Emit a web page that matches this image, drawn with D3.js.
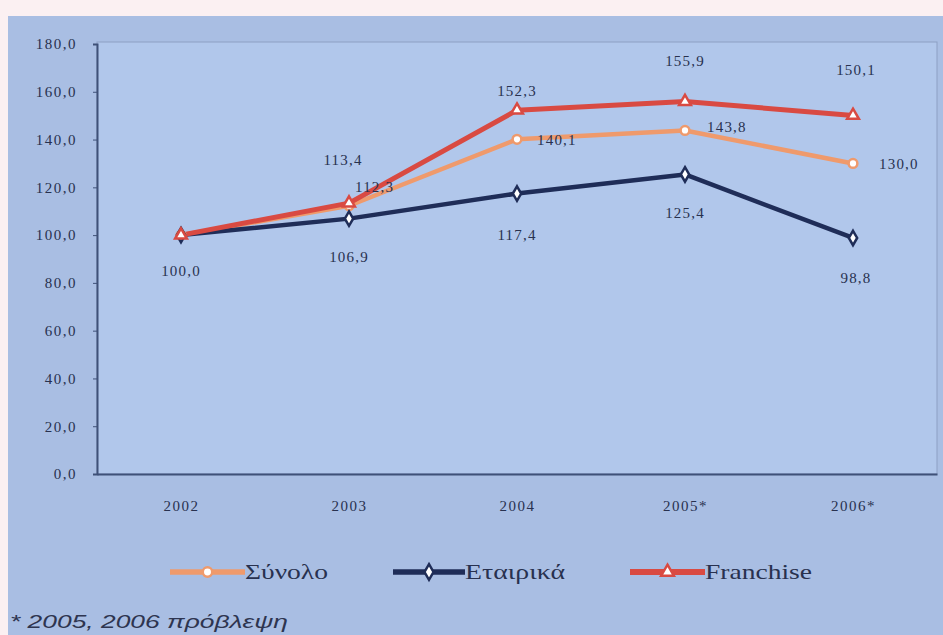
<!DOCTYPE html>
<html><head><meta charset="utf-8">
<script src="https://cdn.jsdelivr.net/npm/d3@7"></script>
<style>html,body{margin:0;padding:0;background:#fbf0f2;}svg{display:block;}</style>
</head><body>
<svg id="c" width="943" height="635"></svg>
<script>
const categories = ["2002", "2003", "2004", "2005*", "2006*"];
const seriesNames = ["Σύνολο", "Εταιρικά", "Franchise"];
const synolo = [100.0, 112.3, 140.1, 143.8, 130.0];
const etairika = [100.0, 106.9, 117.4, 125.4, 98.8];
const franchise = [100.0, 113.4, 152.3, 155.9, 150.1];
const yTicks = [0, 20, 40, 60, 80, 100, 120, 140, 160, 180];
const footnote = "* 2005, 2006 πρόβλεψη";

const svg = d3.select("#c");
const W = 943, H = 635;
const m = {l: 97, r: 937, t: 44, b: 474};
const SERIF = "Liberation Serif";
const TXT = "#28314f";

svg.append("rect").attr("x", 0).attr("y", 0).attr("width", W).attr("height", H).attr("fill", "#fbf0f2");
svg.append("rect").attr("x", 8).attr("y", 16).attr("width", W - 8).attr("height", H - 16).attr("fill", "#a9bee3");
svg.append("rect").attr("x", m.l).attr("y", m.t - 2).attr("width", m.r - m.l).attr("height", m.b - m.t + 2)
  .attr("fill", "#b1c7eb").attr("stroke", "#8d9fc4").attr("stroke-width", 1);

const x = d3.scalePoint().domain(categories).range([m.l, m.r]).padding(0.5);
const y = d3.scaleLinear().domain([0, 180]).range([m.b, m.t]);
const fmt = v => d3.format(".1f")(v).replace(".", ",");

const yAxis = svg.append("g").attr("transform", `translate(${m.l},0)`)
  .call(d3.axisLeft(y).tickValues(yTicks).tickFormat(fmt).tickSize(4).tickPadding(16));
yAxis.select(".domain").attr("stroke", "#3f5178").attr("stroke-width", 2);
yAxis.selectAll(".tick line").attr("stroke", "#3f5178");
yAxis.selectAll("text").attr("font-family", SERIF).attr("font-size", 15).attr("letter-spacing", 1.5).attr("fill", TXT);

const xAxis = svg.append("g").attr("transform", `translate(0,${m.b})`)
  .call(d3.axisBottom(x).tickSize(0).tickPadding(26));
xAxis.select(".domain").attr("stroke", "#3f5178").attr("stroke-width", 2);
xAxis.selectAll("text").attr("font-family", SERIF).attr("font-size", 15).attr("letter-spacing", 1.5).attr("fill", TXT);

const series = [
  {name: seriesNames[0], vals: synolo, color: "#ef9a6c", w: 4.5, shape: d3.symbolCircle},
  {name: seriesNames[1], vals: etairika, color: "#1f2d58", w: 4.5, shape: d3.symbolDiamond},
  {name: seriesNames[2], vals: franchise, color: "#d94a42", w: 5, shape: d3.symbolTriangle}
];
const line = d3.line().x((d, i) => x(categories[i])).y(d => y(d));

series.forEach(s => {
  svg.append("path").datum(s.vals).attr("d", line).attr("fill", "none")
    .attr("stroke", s.color).attr("stroke-width", s.w).attr("stroke-linejoin", "round");
});
series.forEach(s => {
  svg.append("g").selectAll("path").data(s.vals).join("path")
    .attr("transform", (d, i) => `translate(${x(categories[i])},${y(d)})`)
    .attr("d", d3.symbol().type(s.shape).size(60))
    .attr("fill", "#fff").attr("stroke", s.color).attr("stroke-width", 2.5);
});

const lab = (txt, px, py, anchor) => svg.append("text").attr("x", px).attr("y", py)
  .attr("text-anchor", anchor || "middle").attr("font-family", SERIF).attr("font-size", 15)
  .attr("letter-spacing", 1.2).attr("fill", TXT).text(txt);
lab(fmt(etairika[0]), x(categories[0]), y(etairika[0]) + 41);
const eOff = [0, 43, 46, 44, 45];
for (let i = 1; i < 5; i++) lab(fmt(etairika[i]), x(categories[i]) + (i === 4 ? 3 : 0), y(etairika[i]) + eOff[i]);
const fOff = [[0,0],[-6,-38],[0,-14],[0,-36],[3,-40]];
for (let i = 1; i < 5; i++) lab(fmt(franchise[i]), x(categories[i]) + fOff[i][0], y(franchise[i]) + fOff[i][1]);
const sOff = [[0,0],[6,-14],[20,6],[22,2],[26,6]];
for (let i = 1; i < 5; i++) lab(fmt(synolo[i]), x(categories[i]) + sOff[i][0], y(synolo[i]) + sOff[i][1], "start");

const legY = 572;
const legItems = [
  {s: series[0], x1: 170, x2: 245, tx: 245, tl: 83},
  {s: series[1], x1: 393, x2: 465, tx: 465, tl: 100},
  {s: series[2], x1: 630, x2: 705, tx: 705, tl: 107}
];
legItems.forEach(li => {
  svg.append("line").attr("x1", li.x1).attr("x2", li.x2).attr("y1", legY).attr("y2", legY)
    .attr("stroke", li.s.color).attr("stroke-width", li.s.w + 1);
  svg.append("path").attr("transform", `translate(${(li.x1 + li.x2) / 2},${legY})`)
    .attr("d", d3.symbol().type(li.s.shape).size(70))
    .attr("fill", "#fff").attr("stroke", li.s.color).attr("stroke-width", 2.5);
  svg.append("text").attr("x", li.tx).attr("y", legY + 7).attr("font-family", SERIF)
    .attr("font-size", 21).attr("fill", TXT)
    .attr("textLength", li.tl).attr("lengthAdjust", "spacingAndGlyphs").text(li.s.name);
});

svg.append("text").attr("x", 10).attr("y", 628).attr("font-family", "Liberation Sans")
  .attr("font-style", "italic").attr("font-size", 19).attr("fill", "#2e3550")
  .attr("textLength", 278).attr("lengthAdjust", "spacingAndGlyphs").text(footnote);
</script>
</body></html>
